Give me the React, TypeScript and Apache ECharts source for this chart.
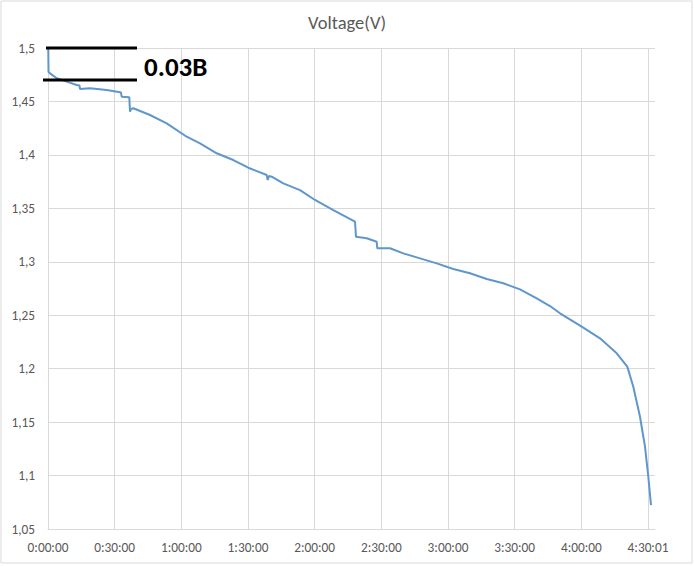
import React, { useEffect, useRef } from "react";
import * as echarts from "echarts";

// time in seconds since start
const times: number[] = [
  0, 8, 14, 54, 235, 505, 775, 850, 864, 1134, 1585, 1944, 1970, 1990, 2195, 2214, 2241, 2303,
  2754, 3205, 3745, 4104, 4555, 5003, 5408, 5905, 5932, 5967, 6040, 6353, 6804, 7209, 7703,
  8289, 8316, 8605, 8875, 8891, 9234, 9593, 10044, 10495, 10943, 11394, 11845, 12293, 12744,
  13195, 13554, 13824, 14410, 14904, 15355, 15641, 15803, 15984, 16119, 16208, 16281,
];
const voltages: number[] = [
  1.5, 1.4988, 1.4778, 1.4763, 1.4717, 1.4685, 1.4654, 1.4649, 1.4616, 1.4623, 1.4607, 1.4586,
  1.4584, 1.4544, 1.4539, 1.4404, 1.4429, 1.4436, 1.4373, 1.4295, 1.417, 1.4108, 1.4015, 1.3952,
  1.388, 1.3812, 1.3765, 1.3802, 1.3796, 1.3734, 1.3671, 1.3578, 1.3484, 1.3375, 1.3235, 1.322,
  1.3187, 1.3126, 1.3126, 1.3079, 1.3032, 1.2985, 1.2932, 1.2892, 1.2839, 1.2799, 1.2742, 1.2658,
  1.2586, 1.2518, 1.2393, 1.2284, 1.2144, 1.2019, 1.1831, 1.155, 1.127, 1.0989, 1.0724,
];
const xTickValues: number[] = [0, 1800, 3600, 5400, 7200, 9000, 10800, 12600, 14400, 16200];
const xTickLabels: string[] = [
  "0:00:00", "0:30:00", "1:00:00", "1:30:00", "2:00:00", "2:30:00", "3:00:00", "3:30:00", "4:00:00", "4:30:01",
];
const annotationText = "0.03B";
const titleText = "Voltage(V)";

const FONT = "Carlito, 'Noto Sans', 'Liberation Sans', sans-serif";

export default function App() {
  const ref = useRef<HTMLDivElement>(null);
  useEffect(() => {
    document.body.style.margin = "0";
    if (!ref.current) return;
    const chart = echarts.init(ref.current, undefined, { renderer: "svg" });
    const data = times.map((t, i) => [t, voltages[i]]);
    chart.setOption({
      animation: false,
      backgroundColor: "#ffffff",
      title: {
        text: titleText,
        left: "center",
        top: 8,
        textStyle: { fontFamily: FONT, fontSize: 18.5, fontWeight: "normal", color: "#595959" },
      },
      grid: { left: 48, right: 39, top: 48, bottom: 37, containLabel: false },
      xAxis: {
        type: "value",
        min: 0,
        max: 16389,
        axisLine: { show: true, lineStyle: { color: "#d9d9d9", width: 1 } },
        axisTick: { show: false, customValues: xTickValues },
        axisLabel: {
          customValues: xTickValues,
          formatter: (v: number) => {
            const i = xTickValues.indexOf(v);
            return i >= 0 ? xTickLabels[i] : "";
          },
          color: "#595959",
          fontFamily: FONT,
          fontSize: 13.3,
          margin: 12,
        },
        splitLine: { show: true, lineStyle: { color: "#d9d9d9", width: 1 } },
      },
      yAxis: {
        type: "value",
        min: 1.05,
        max: 1.5,
        interval: 0.05,
        axisLine: { show: false },
        axisTick: { show: false },
        axisLabel: {
          formatter: (v: number) => String(Math.round(v * 100) / 100).replace(".", ","),
          color: "#595959",
          fontFamily: FONT,
          fontSize: 13.3,
          margin: 13,
        },
        splitLine: { show: true, lineStyle: { color: "#d9d9d9", width: 1 } },
      },
      series: [
        {
          type: "line",
          data,
          showSymbol: false,
          symbol: "none",
          lineStyle: { color: "#5f97cc", width: 2 },
          clip: false,
        },
      ],
      graphic: [
        {
          type: "rect",
          shape: { x: 1, y: 1, width: 691, height: 562 },
          style: { fill: "none", stroke: "#d9d9d9", lineWidth: 1 },
          z: 0,
        },
        {
          type: "line",
          shape: { x1: 46, y1: 48, x2: 137, y2: 48 },
          style: { stroke: "#000000", lineWidth: 3 },
          z: 100,
        },
        {
          type: "line",
          shape: { x1: 43, y1: 80, x2: 137, y2: 80 },
          style: { stroke: "#000000", lineWidth: 3 },
          z: 100,
        },
        {
          type: "text",
          x: 144,
          y: 66,
          style: {
            text: annotationText,
            fill: "#000000",
            font: `bold 27px ${FONT}`,
            verticalAlign: "middle",
          },
          z: 100,
        },
      ],
    });
    return () => chart.dispose();
  }, []);
  return <div ref={ref} style={{ width: 694, height: 566 }} />;
}
